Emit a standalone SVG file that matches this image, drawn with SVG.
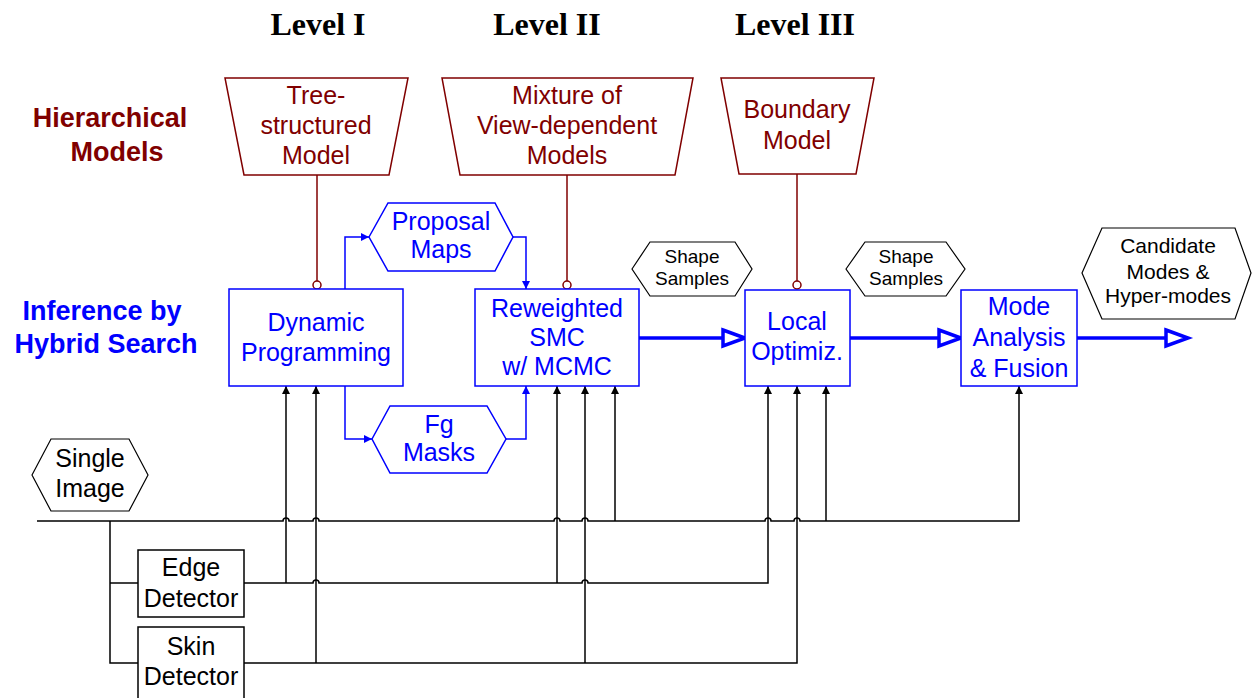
<svg xmlns="http://www.w3.org/2000/svg" width="1252" height="698" viewBox="0 0 1252 698">
<style>
.bg{fill:#fff}
.t{font-family:"Liberation Sans",Arial,sans-serif;text-anchor:middle}
.lvl{font-family:"Liberation Serif","Times New Roman",serif;font-weight:bold;font-size:32px;text-anchor:middle;fill:#000}
.lab{font-family:"Liberation Sans",Arial,sans-serif;font-weight:bold;font-size:27px;text-anchor:middle}
.red{fill:#800000}
.blue{fill:#0000ff}
.blk{fill:#000}
.f25{font-size:25px}
.f21{font-size:21px}
.f19{font-size:19px}
.trap{fill:#fff;stroke:#800000;stroke-width:1.5}
.bbox{fill:#fff;stroke:#0000ff;stroke-width:1.5}
.khex{fill:#fff;stroke:#000;stroke-width:1.2}
.kbox{fill:#fff;stroke:#000;stroke-width:1.5}
.rl{fill:none;stroke:#800000;stroke-width:1.5}
.rc{fill:#fff;stroke:#800000;stroke-width:1.5}
.bl{fill:none;stroke:#0000ff;stroke-width:1.5}
.kl{fill:none;stroke:#000;stroke-width:1.5}
.thick{fill:none;stroke:#0000ff;stroke-width:3.5}
</style>
<defs>
<marker id="ak" markerUnits="userSpaceOnUse" markerWidth="10" markerHeight="10" refX="8" refY="4" orient="auto" overflow="visible">
<path d="M0,0 L8,4 L0,8 z" fill="#000"/>
</marker>
<marker id="ab" markerUnits="userSpaceOnUse" markerWidth="10" markerHeight="10" refX="8" refY="4" orient="auto" overflow="visible">
<path d="M0,0 L8,4 L0,8 z" fill="#0000ff"/>
</marker>
<marker id="aw" markerUnits="userSpaceOnUse" markerWidth="30" markerHeight="22" refX="23" refY="9" orient="auto" overflow="visible">
<path d="M1,1 L23,9 L1,17 z" fill="#fff" stroke="#0000ff" stroke-width="3.5"/>
</marker>
</defs>
<rect class="bg" x="0" y="0" width="1252" height="698"/>

<g id="titles">
<text class="lvl" x="318" y="35">Level I</text>
<text class="lvl" x="547" y="35">Level II</text>
<text class="lvl" x="795" y="35">Level III</text>
</g>

<g id="label-hierarchical">
<text class="lab red" x="110" y="127">Hierarchical</text>
<text class="lab red" x="117" y="161">Models</text>
</g>
<g id="label-inference">
<text class="lab blue" x="102" y="320">Inference by</text>
<text class="lab blue" x="106" y="353">Hybrid Search</text>
</g>

<g id="connectors">
<!-- model links -->
<path class="rl" d="M317,175 V281"/>
<path class="rl" d="M567,175 V281"/>
<path class="rl" d="M797,174 V281"/>
<circle class="rc" cx="317" cy="285" r="4"/>
<circle class="rc" cx="567" cy="285" r="4"/>
<circle class="rc" cx="797" cy="285" r="4"/>
<!-- blue data links -->
<path class="bl" d="M345,289 V237 H369" marker-end="url(#ab)"/>
<path class="bl" d="M513,237 H526 V289" marker-end="url(#ab)"/>
<path class="bl" d="M345,386 V439 H372" marker-end="url(#ab)"/>
<path class="bl" d="M506,439 H526 V386" marker-end="url(#ab)"/>
<!-- thick pipeline -->
<path class="thick" d="M639,338 H745" marker-end="url(#aw)"/>
<path class="thick" d="M850,338 H961" marker-end="url(#aw)"/>
<path class="thick" d="M1077,338 H1188" marker-end="url(#aw)"/>
<!-- image bus -->
<path class="kl" d="M37,521 H283 A3,3 0 0 1 289,521 H313 A3,3 0 0 1 319,521 H554 A3,3 0 0 1 560,521 H582 A3,3 0 0 1 588,521 H765 A3,3 0 0 1 771,521 H794 A3,3 0 0 1 800,521 H1019 V386" marker-end="url(#ak)"/>
<path class="kl" d="M110,521 V663 H138"/>
<path class="kl" d="M110,583 H138"/>
<!-- edge line -->
<path class="kl" d="M244,583 H313 A3,3 0 0 1 319,583 H582 A3,3 0 0 1 588,583 H768 V386" marker-end="url(#ak)"/>
<!-- skin line -->
<path class="kl" d="M244,663 H797 V386" marker-end="url(#ak)"/>
<!-- verticals -->
<path class="kl" d="M286,583 V386" marker-end="url(#ak)"/>
<path class="kl" d="M316,663 V386" marker-end="url(#ak)"/>
<path class="kl" d="M557,583 V386" marker-end="url(#ak)"/>
<path class="kl" d="M585,663 V386" marker-end="url(#ak)"/>
<path class="kl" d="M615,521 V386" marker-end="url(#ak)"/>
<path class="kl" d="M826,521 V386" marker-end="url(#ak)"/>
</g>

<g id="tree-model">
<polygon class="trap" points="225,78 408,78 389,175 244,175"/>
<text class="t red f25"><tspan x="316" y="104">Tree-</tspan><tspan x="316" y="134">structured</tspan><tspan x="316" y="164">Model</tspan></text>
</g>
<g id="mixture-model">
<polygon class="trap" points="442,78 693,78 675,175 460,175"/>
<text class="t red f25"><tspan x="567" y="104">Mixture of</tspan><tspan x="567" y="134">View-dependent</tspan><tspan x="567" y="164">Models</tspan></text>
</g>
<g id="boundary-model">
<polygon class="trap" points="721,78 874,78 856,174 739,174"/>
<text class="t red f25"><tspan x="797" y="118">Boundary</tspan><tspan x="797" y="149">Model</tspan></text>
</g>

<g id="dynamic-programming">
<rect class="bbox" x="229" y="289" width="174" height="97"/>
<text class="t blue f25"><tspan x="316" y="331">Dynamic</tspan><tspan x="316" y="361">Programming</tspan></text>
</g>
<g id="proposal-maps">
<polygon class="bbox" points="369,237 388,203 495,203 513,237 495,271 388,271"/>
<text class="t blue f25"><tspan x="441" y="230">Proposal</tspan><tspan x="441" y="258">Maps</tspan></text>
</g>
<g id="fg-masks">
<polygon class="bbox" points="372,439 390,406 487,406 506,439 487,473 390,473"/>
<text class="t blue f25"><tspan x="439" y="433">Fg</tspan><tspan x="439" y="461">Masks</tspan></text>
</g>
<g id="reweighted-smc">
<rect class="bbox" x="475" y="289" width="164" height="97"/>
<text class="t blue f25"><tspan x="557" y="317">Reweighted</tspan><tspan x="557" y="346">SMC</tspan><tspan x="557" y="375">w/ MCMC</tspan></text>
</g>
<g id="shape-samples-1">
<polygon class="khex" points="632,269 650,242 735,242 752,269 735,296 650,296"/>
<text class="t blk f19"><tspan x="692" y="263">Shape</tspan><tspan x="692" y="285">Samples</tspan></text>
</g>
<g id="local-optimiz">
<rect class="bbox" x="745" y="290" width="105" height="96"/>
<text class="t blue f25"><tspan x="797" y="330">Local</tspan><tspan x="797" y="360">Optimiz.</tspan></text>
</g>
<g id="shape-samples-2">
<polygon class="khex" points="846,269 865,242 946,242 965,269 946,296 865,296"/>
<text class="t blk f19"><tspan x="906" y="263">Shape</tspan><tspan x="906" y="285">Samples</tspan></text>
</g>
<g id="mode-analysis">
<rect class="bbox" x="961" y="290" width="116" height="96"/>
<text class="t blue f25"><tspan x="1019" y="315">Mode</tspan><tspan x="1019" y="346">Analysis</tspan><tspan x="1019" y="377">&amp; Fusion</tspan></text>
</g>
<g id="candidate-modes">
<polygon class="khex" points="1082,273 1102,228 1235,228 1251,273 1235,319 1102,319"/>
<text class="t blk f21"><tspan x="1168" y="253">Candidate</tspan><tspan x="1168" y="279">Modes &amp;</tspan><tspan x="1168" y="303">Hyper-modes</tspan></text>
</g>
<g id="single-image">
<polygon class="khex" points="32,475 51,439 129,439 148,475 129,511 51,511"/>
<text class="t blk f25"><tspan x="90" y="467">Single</tspan><tspan x="90" y="497">Image</tspan></text>
</g>
<g id="edge-detector">
<rect class="kbox" x="138" y="550" width="106" height="67"/>
<text class="t blk f25"><tspan x="191" y="576">Edge</tspan><tspan x="191" y="607">Detector</tspan></text>
</g>
<g id="skin-detector">
<rect class="kbox" x="138" y="627" width="106" height="75"/>
<text class="t blk f25"><tspan x="191" y="655">Skin</tspan><tspan x="191" y="685">Detector</tspan></text>
</g>
</svg>
